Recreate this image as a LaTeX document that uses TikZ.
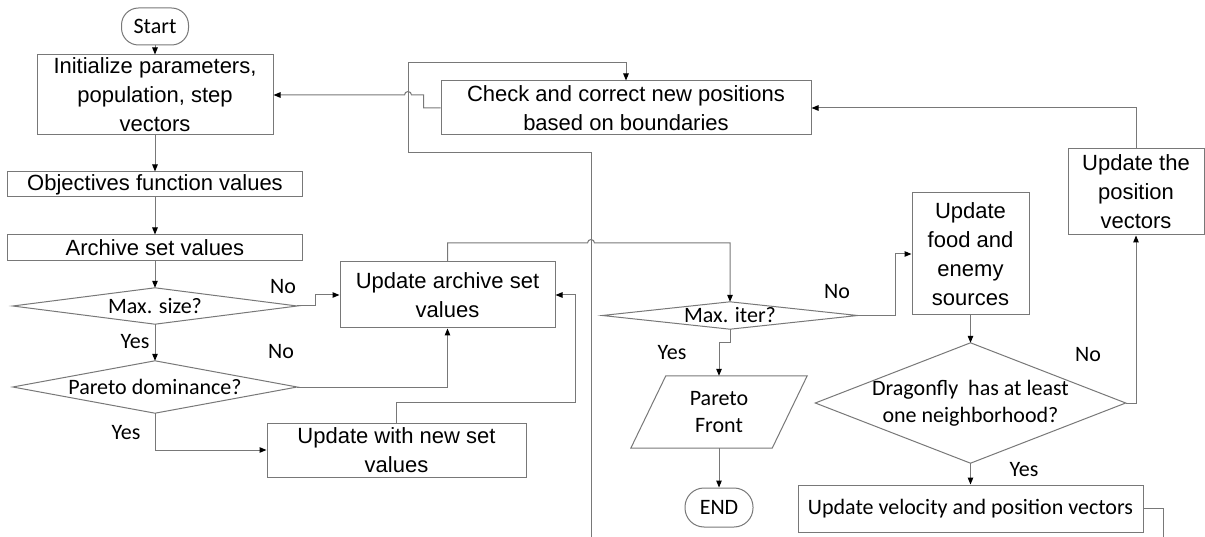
\documentclass[tikz,border=0pt]{standalone}
\usepackage{fontspec}
\setmainfont{Liberation Sans}
\newfontfamily\calib{Carlito}
\usetikzlibrary{arrows.meta,calc}
\definecolor{lgray}{RGB}{120,120,120}
\begin{document}
\begin{tikzpicture}[x=1pt,y=-1pt,
 ln/.style={draw=lgray, line width=1pt},
 arr/.style={ln,-{Triangle[length=7pt,width=5.5pt,color=black]}},
 box/.style={draw=lgray,line width=1pt,rectangle,inner sep=0pt,align=center,font=\fontsize{22}{29}\selectfont},
 cbox/.style={box,font=\calib\fontsize{22}{27}\selectfont},
 ghost/.style={inner sep=0pt,align=center,font=\calib\fontsize{22}{27}\selectfont},
 lbl/.style={inner sep=0pt,font=\calib\fontsize{22}{27}\selectfont},
 term/.style={cbox,rounded corners=17pt},
]
\useasboundingbox[fill=white] (0,0) rectangle (1205,537);

% nodes
\node[term,minimum width=67,minimum height=37] (start) at (155,26.5) {Start};
\node[box,minimum width=236,minimum height=80] (init) at (155,95) {Initialize parameters,\\ population, step\\ vectors};
\node[box,minimum width=295,minimum height=25] (obj) at (155,184.5) {Objectives function values};
\node[box,minimum width=295,minimum height=26] (arch) at (155,248) {Archive set values};
\node[ghost,minimum width=284,minimum height=36] (ms) at (155,306) {Max. size?};
\node[box,minimum width=215,minimum height=66] (ua) at (447.5,295) {Update archive set\\ values};
\node[ghost,minimum width=284,minimum height=52] (pd) at (155,387) {Pareto dominance?};
\node[box,minimum width=259,minimum height=54] (uw) at (396.5,450) {Update with new set\\ values};
\node[box,minimum width=370,minimum height=54] (chk) at (626,108) {Check and correct new positions\\ based on boundaries};
\node[ghost,minimum width=255,minimum height=27] (mi) at (730,315.5) {Max. iter?};
\node[ghost,minimum width=176,minimum height=72] (pf) at (719,412) {Pareto\\ Front};
\node[term,minimum width=68,minimum height=39,rounded corners=19pt] (endn) at (719,507.5) {END};
\node[box,minimum width=117,minimum height=122] (uf) at (970.5,254) {Update\\ food and\\ enemy\\ sources};
\node[ghost,minimum width=310,minimum height=120] (df) at (970.5,403) {Dragonfly\ \ has at least\\ one neighborhood?};
\node[box,minimum width=136,minimum height=86] (up) at (1136,192) {Update the\\ position\\ vectors};
\node[cbox,minimum width=345,minimum height=47] (uv) at (970.5,508.5) {Update velocity and position vectors};

% diamond and parallelogram outlines
\draw[ln] (ms.west) -- (ms.north) -- (ms.east) -- (ms.south) -- cycle;
\draw[ln] (pd.west) -- (pd.north) -- (pd.east) -- (pd.south) -- cycle;
\draw[ln] (mi.west) -- (mi.north) -- (mi.east) -- (mi.south) -- cycle;
\draw[ln] (df.west) -- (df.north) -- (df.east) -- (df.south) -- cycle;
\draw[ln] ($(pf.north west)+(35,0)$) -- (pf.north east) -- ($(pf.south east)+(-35,0)$) -- (pf.south west) -- cycle;

% labels
\node[lbl] (l1) at (283,287) {No};
\node[lbl] (l2) at (281,352) {No};
\node[lbl] (l3) at (135,342) {Yes};
\node[lbl] (l4) at (126,433) {Yes};
\node[lbl] (l5) at (837,292) {No};
\node[lbl] (l6) at (672,353) {Yes};
\node[lbl] (l7) at (1088,355) {No};
\node[lbl] (l8) at (1024,470) {Yes};

\coordinate (b1) at (591,537);
\coordinate (b2) at (1163,537);

% connectors
\draw[arr] (start) -- (init);
\draw[arr] (init) -- (obj);
\draw[arr] (obj) -- (arch);
\draw[arr] (arch) -- (ms.north);
\draw[arr] (ms.east) -- ++(18,0) |- (ua.west);
\draw[arr] (ms.south) -- (pd.north);
\draw[arr] (pd.east) -| (ua.south);
\draw[arr] (pd.south) |- (uw.west);
\draw[arr] (uw.north) |- (575,402) -- (575,295) -- (ua.east);
\draw[arr] (ua.north) |- (587.5,243) arc[start angle=180,end angle=360,radius=3.5] -| (mi.north);
\draw[arr] (mi.south) -- ++(0,13) -| (pf.north);
\draw[arr] (pf) -- (endn);
\draw[arr] (mi.east) -- ++(38,0) |- (uf.west);
\draw[arr] (uf) -- (df.north);
\draw[arr] (df.east) -| (up.south);
\draw[arr] (up.north) |- (chk.east);
\draw[arr] (df.south) -- (uv.north);
\draw[ln] (uv.east) -| (b2);
\draw[arr] (chk.west) -- ++(-17,0) |- (411.5,95) arc[start angle=360,end angle=180,radius=3.5] -- (init.east);
\draw[arr] (b1) |- (408,153) -- (408,63) -| (chk.north);
\end{tikzpicture}
\end{document}
